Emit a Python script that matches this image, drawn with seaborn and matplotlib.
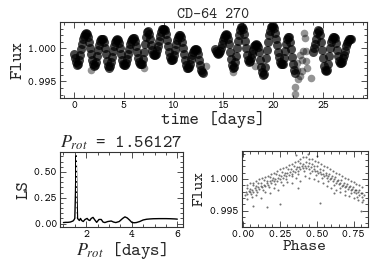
import matplotlib
matplotlib.use('Agg')
import matplotlib.pyplot as plt
import seaborn as sns
import pandas as pd
from matplotlib.ticker import MultipleLocator, FormatStrFormatter

# ---------------- light curve ----------------
lc_time = [0.0, 0.1, 0.2, 0.3, 0.4, 0.5, 0.6, 0.7, 0.8, 0.9, 1.0, 1.1, 1.2, 1.3, 1.4, 1.5, 1.6, 1.7, 1.8, 1.9,
           2.0, 2.1, 2.2, 2.3, 2.4, 2.5, 2.6, 2.7, 2.8, 2.9, 3.0, 3.1, 3.2, 3.3, 3.4, 3.5, 3.6, 3.7, 3.8, 3.9,
           4.0, 4.1, 4.2, 4.3, 4.4, 4.5, 4.6, 4.7, 4.8, 4.9, 5.0, 5.1, 5.2, 5.3, 5.4, 5.5, 5.6, 5.7, 5.8, 5.9,
           6.0, 6.1, 6.2, 6.3, 6.4, 6.5, 6.6, 6.7, 6.8, 6.9, 7.0, 7.1, 7.2, 7.3, 7.4, 7.5, 7.6, 7.7, 7.8, 7.9,
           8.0, 8.1, 8.2, 8.3, 8.4, 8.5, 8.6, 8.7, 8.8, 8.9, 9.0, 9.1, 9.2, 9.3, 9.4, 9.5, 9.6, 9.7, 9.8, 9.9,
           10.0, 10.1, 10.2, 10.3, 10.4, 10.5, 10.6, 10.7, 10.8, 10.9, 11.0, 11.1, 11.2, 11.3, 11.4, 11.5,
           11.6, 11.7, 11.8, 11.9, 12.0, 12.1, 12.2, 12.3, 12.4, 12.5, 12.6, 12.7, 12.8, 12.9,
           14.2, 14.3, 14.4, 14.5, 14.6, 14.7, 14.8, 14.9, 15.0, 15.1, 15.2, 15.3, 15.4, 15.5, 15.6, 15.7,
           15.8, 15.9, 16.0, 16.1, 16.2, 16.3, 16.4, 16.5, 16.6, 16.7, 16.8, 16.9, 17.0, 17.1, 17.2, 17.3,
           17.4, 17.5, 17.6, 17.7, 17.8, 17.9, 18.0, 18.1, 18.2, 18.3, 18.4, 18.5, 18.6, 18.7, 18.8, 18.9,
           19.0, 19.1, 19.2, 19.3, 19.4, 19.5, 19.6, 19.7, 19.8, 19.9, 20.0, 20.1, 20.2, 20.3, 20.4, 20.5,
           20.6, 20.7, 20.8, 20.9, 21.0, 21.1, 21.2, 21.3, 21.4, 21.5, 21.6, 21.7, 21.8, 21.9, 22.0, 22.1, 22.2,
           24.0, 24.1, 24.2, 24.3, 24.4, 24.5, 24.6, 24.7, 24.8, 24.9, 25.0, 25.1, 25.2, 25.3, 25.4, 25.5,
           25.6, 25.7, 25.8, 25.9, 26.0, 26.1, 26.2, 26.3, 26.4, 26.5, 26.6, 26.7, 26.8, 26.9, 27.0, 27.1,
           27.2, 27.3, 27.4, 27.5, 27.6, 27.7, 27.8]
lc_flux = [0.9992, 0.9986, 0.9979, 0.9975, 0.9976, 0.9982, 0.9990, 0.9999, 1.0007, 1.0014, 1.0019, 1.0022, 1.0023, 1.0022, 1.0017, 1.0009, 1.0000, 0.9991, 0.9983, 0.9977,
           0.9974, 0.9975, 0.9980, 0.9988, 0.9997, 1.0005, 1.0011, 1.0014, 1.0015, 1.0014, 1.0009, 1.0001, 0.9991, 0.9981, 0.9974, 0.9971, 0.9973, 0.9979, 0.9987, 0.9996,
           1.0004, 1.0010, 1.0013, 1.0014, 1.0013, 1.0008, 1.0000, 0.9991, 0.9983, 0.9977, 0.9975, 0.9975, 0.9978, 0.9984, 0.9991, 0.9999, 1.0006, 1.0011, 1.0014, 1.0016,
           1.0016, 1.0012, 1.0004, 0.9995, 0.9986, 0.9980, 0.9977, 0.9976, 0.9977, 0.9984, 0.9995, 1.0007, 1.0018, 1.0025, 1.0026, 1.0022, 1.0014, 1.0005, 0.9997, 0.9992,
           0.9990, 0.9990, 0.9992, 0.9997, 1.0004, 1.0012, 1.0019, 1.0025, 1.0029, 1.0030, 1.0030, 1.0028, 1.0022, 1.0013, 1.0003, 0.9994, 0.9987, 0.9983, 0.9982, 0.9984,
           0.9990, 0.9998, 1.0006, 1.0013, 1.0018, 1.0020, 1.0020, 1.0017, 1.0010, 1.0001, 0.9991, 0.9982, 0.9975, 0.9971, 0.9970, 0.9972,
           0.9977, 0.9984, 0.9990, 0.9995, 0.9998, 0.99995, 0.99995, 0.9997, 0.9991, 0.9983, 0.9975, 0.9968, 0.9964, 0.9963,
           0.9999, 0.9996, 0.9993, 0.9992, 0.9993, 0.9996, 1.0001, 1.0007, 1.0013, 1.0018, 1.0021, 1.0022, 1.0021, 1.0015, 1.0006, 0.9995,
           0.9984, 0.9975, 0.9970, 0.9972, 0.9979, 0.9989, 1.0000, 1.0011, 1.0021, 1.0028, 1.0032, 1.0033, 1.0030, 1.0022, 1.0011, 1.0000,
           0.9990, 0.9983, 0.9980, 0.9981, 0.9986, 0.9992, 0.9998, 1.0003, 1.0005, 1.0006, 1.0005, 1.0002, 0.9994, 0.9983, 0.9972, 0.9964,
           0.9960, 0.9962, 0.9972, 0.9985, 0.9998, 1.0010, 1.0020, 1.0027, 1.0032, 1.0034, 1.0034, 1.0031, 1.0024, 1.0015, 1.0005, 0.9995,
           0.9987, 0.9980, 0.9977, 0.9976, 0.9977, 0.9985, 0.9996, 1.0007, 1.0015, 1.0018, 1.0017, 1.0010, 0.9999, 0.9987, 0.9976, 0.9968, 0.9963,
           0.9994, 1.0000, 1.0006, 1.0015, 1.0024, 1.0028, 1.0027, 1.0020, 1.0009, 0.9997, 0.9985, 0.9974, 0.9968, 0.9966, 0.9968, 0.9976,
           0.9988, 1.0000, 1.0009, 1.0015, 1.0018, 1.0018, 1.0016, 1.0008, 0.9998, 0.9988, 0.9981, 0.9978, 0.9978, 0.9980, 0.9985, 0.9990,
           0.9996, 1.0003, 1.0008, 1.0012, 1.0014, 1.0015, 1.0015]
# isolated / scattered points
out_time = [1.75, 7.05, 13.2, 15.95, 18.2, 22.15, 22.2, 22.45, 22.4, 22.35, 22.67, 22.83, 22.67, 22.83,
            23.0, 23.1, 23.2, 23.33, 23.33, 23.4, 23.8]
out_flux = [0.9968, 0.9971, 0.9974, 0.9965, 0.9974, 0.9941, 0.9931, 0.9953, 0.9978, 0.9968, 0.9990, 0.9983, 0.9958, 0.9966,
            0.9996, 1.0023, 1.0016, 0.99955, 0.9981, 0.9971, 0.99555]

# ---------------- periodogram ----------------
ls_period = [1.00, 1.10, 1.20, 1.30, 1.36, 1.42, 1.46, 1.50, 1.53, 1.56127, 1.59, 1.62, 1.66, 1.70, 1.75, 1.80,
             1.87, 1.95, 2.04, 2.10, 2.16, 2.22, 2.30, 2.38, 2.46, 2.56, 2.66, 2.74, 2.82, 2.95, 3.10, 3.20,
             3.30, 3.45, 3.60, 3.70, 3.80, 3.90, 4.00, 4.10, 4.20, 4.35, 4.50, 4.65, 4.80, 4.95, 5.20, 5.50,
             5.70, 5.90, 6.00]
ls_power = [0.010, 0.012, 0.012, 0.015, 0.020, 0.025, 0.035, 0.05, 0.30, 0.66, 0.30, 0.05, 0.04, 0.03, 0.05, 0.03,
            0.02, 0.04, 0.05, 0.035, 0.03, 0.05, 0.06, 0.035, 0.012, 0.04, 0.04, 0.015, 0.01, 0.02, 0.025, 0.015,
            0.01, 0.02, 0.05, 0.065, 0.055, 0.035, 0.012, 0.008, 0.010, 0.020, 0.035, 0.042, 0.045, 0.047, 0.048, 0.048,
            0.047, 0.045, 0.043]
p_rot = 1.56127

# ---------------- phase-folded ----------------
ph_phase = [0.02, 0.04, 0.06, 0.08, 0.10, 0.12, 0.14, 0.16, 0.18, 0.20, 0.22, 0.24, 0.26, 0.28, 0.30, 0.32, 0.34, 0.36, 0.38, 0.40,
            0.42, 0.44, 0.46, 0.48, 0.50, 0.52, 0.54, 0.56, 0.58, 0.60, 0.62, 0.64, 0.66, 0.68, 0.70, 0.72, 0.74, 0.76, 0.78, 0.80, 0.82,
            0.03, 0.05, 0.07, 0.09, 0.11, 0.13, 0.15, 0.17, 0.19, 0.21, 0.23, 0.25, 0.27, 0.29, 0.31, 0.33, 0.35, 0.37, 0.39, 0.41,
            0.43, 0.45, 0.47, 0.49, 0.51, 0.53, 0.55, 0.57, 0.59, 0.61, 0.63, 0.65, 0.67, 0.69, 0.71, 0.73, 0.75, 0.77, 0.79, 0.81,
            0.03, 0.05, 0.07, 0.09, 0.11, 0.13, 0.15, 0.17, 0.19, 0.21, 0.23, 0.25, 0.27, 0.29, 0.31, 0.33, 0.35, 0.37, 0.39, 0.41,
            0.43, 0.45, 0.47, 0.49, 0.51, 0.53, 0.55, 0.57, 0.59, 0.61, 0.63, 0.65, 0.67, 0.69, 0.71, 0.73, 0.75, 0.77, 0.79, 0.81,
            0.03, 0.06, 0.09, 0.12, 0.15, 0.18, 0.21, 0.24, 0.27, 0.30, 0.33, 0.36, 0.39, 0.42, 0.45, 0.48, 0.51, 0.54, 0.57, 0.60,
            0.63, 0.66, 0.69, 0.72, 0.75, 0.78, 0.81, 0.07, 0.16, 0.25, 0.37, 0.52, 0.62, 0.80, 0.36, 0.44, 0.50,
            0.025, 0.045, 0.065, 0.085, 0.105, 0.125, 0.145, 0.165, 0.185, 0.205, 0.225, 0.245, 0.265, 0.285, 0.305, 0.325,
            0.345, 0.365, 0.385, 0.405, 0.425, 0.445, 0.465, 0.485, 0.505, 0.525, 0.545, 0.565, 0.585, 0.605, 0.625, 0.645,
            0.665, 0.685, 0.705, 0.725, 0.745, 0.765, 0.785, 0.805,
            0.015, 0.055, 0.095, 0.135, 0.175, 0.215, 0.255, 0.295, 0.335, 0.375, 0.415, 0.455, 0.495, 0.535, 0.575, 0.615,
            0.655, 0.695, 0.735, 0.775, 0.815]
ph_flux = [0.9979, 0.9981, 0.9983, 0.9985, 0.9987, 0.9989, 0.9991, 0.9993, 0.9996, 0.9998, 1.0000, 1.0002, 1.0004, 1.0006, 1.0009, 1.0011, 1.0013, 1.0015, 1.0018, 1.0020,
           1.0021, 1.0020, 1.0018, 1.0016, 1.0013, 1.0011, 1.0008, 1.0006, 1.0004, 1.0001, 0.9999, 0.9996, 0.9994, 0.9991, 0.9989, 0.9987, 0.9984, 0.9982, 0.9979, 0.9977, 0.9975,
           0.9976, 0.9979, 0.9980, 0.9983, 0.9984, 0.9987, 0.9988, 0.9991, 0.9993, 0.9996, 0.9997, 1.0000, 1.0001, 1.0004, 1.0006, 1.0008, 1.0011, 1.0013, 1.0015, 1.0017,
           1.0017, 1.0016, 1.0013, 1.0012, 1.0009, 1.0007, 1.0004, 1.0002, 0.9999, 0.9997, 0.9994, 0.9992, 0.9989, 0.9987, 0.9984, 0.9982, 0.9979, 0.9977, 0.9974, 0.9971,
           0.9990, 0.9993, 0.9994, 0.9997, 0.9999, 1.0001, 1.0003, 1.0005, 1.0008, 1.0010, 1.0012, 1.0015, 1.0017, 1.0019, 1.0022, 1.0024, 1.0027, 1.0029, 1.0032, 1.0034,
           1.0034, 1.0032, 1.0031, 1.0028, 1.0026, 1.0023, 1.0020, 1.0018, 1.0015, 1.0013, 1.0010, 1.0007, 1.0005, 1.0002, 1.0000, 0.9997, 0.9995, 0.9992, 0.9990, 0.9987,
           0.9968, 0.9972, 0.9975, 0.9970, 0.9980, 0.9978, 0.9985, 0.9983, 0.9991, 0.9995, 0.9993, 1.0001, 0.9997, 1.0005, 1.0002, 1.0000, 0.9996, 0.9993, 0.9988, 0.9986,
           0.9982, 0.9979, 0.9975, 0.9973, 0.9970, 0.9966, 0.9963, 0.9957, 0.9955, 0.9960, 0.9985, 0.9962, 0.9978, 0.9950, 1.0038, 1.0039, 1.0036,
           0.9986, 0.9984, 0.9990, 0.9989, 0.9994, 0.9993, 0.9998, 0.9997, 1.0003, 1.0002, 1.0007, 1.0006, 1.0011, 1.0010, 1.0016, 1.0015,
           1.0020, 1.0019, 1.0025, 1.0024, 1.0027, 1.0025, 1.0024, 1.0020, 1.0020, 1.0015, 1.0014, 1.0009, 1.0008, 1.0004, 1.0003, 0.9998,
           0.9998, 0.9993, 0.9992, 0.9988, 0.9987, 0.9982, 0.9982, 0.9977,
           0.9974, 0.9976, 0.9980, 0.9983, 0.9987, 0.9992, 0.9995, 0.9999, 1.0004, 1.0008, 1.0012, 1.0010, 1.0006, 1.0001, 0.9996, 0.9991,
           0.9986, 0.9981, 0.9977, 0.9972, 0.9967]

# ---------------- style ----------------
sns.set_style('ticks')
plt.rcParams['font.family'] = ['cmtt10', 'DejaVu Sans']
plt.rcParams['mathtext.fontset'] = 'stix'
plt.rcParams['axes.unicode_minus'] = False
plt.rcParams['axes.edgecolor'] = '#333333'
plt.rcParams['axes.linewidth'] = 0.8

W, H = 374, 267
fig = plt.figure(figsize=(W / 100, H / 100), dpi=100)

def box(l, t, r, b):
    return [l / W, 1 - b / H, (r - l) / W, (b - t) / H]

ax1 = fig.add_axes(box(60, 22, 367, 98))
ax2 = fig.add_axes(box(60, 152, 183, 227))
ax3 = fig.add_axes(box(241.5, 151, 367.5, 227))

lc = pd.DataFrame({'time': lc_time, 'flux': lc_flux})
outl = pd.DataFrame({'time': out_time, 'flux': out_flux})
sns.scatterplot(data=lc, x='time', y='flux', ax=ax1, color='black', s=42, alpha=0.72, linewidth=0, legend=False)
sns.scatterplot(data=outl, x='time', y='flux', ax=ax1, color='black', s=30, alpha=0.42, linewidth=0, legend=False)
ax1.set_xlim(-1.4, 29.4)
ax1.set_ylim(0.9925, 1.0040)
ax1.xaxis.set_major_locator(MultipleLocator(5))
ax1.xaxis.set_minor_locator(MultipleLocator(1))
ax1.yaxis.set_major_locator(MultipleLocator(0.005))
ax1.yaxis.set_minor_locator(MultipleLocator(0.001))
ax1.yaxis.set_major_formatter(FormatStrFormatter('%.3f'))
ax1.set_title('CD-64 270', fontsize=11, pad=2)
ax1.set_xlabel('time [days]', fontsize=13, labelpad=0)
ax1.set_ylabel('Flux', fontsize=13, labelpad=2)

ls = pd.DataFrame({'period': ls_period, 'power': ls_power})
sns.lineplot(data=ls, x='period', y='power', ax=ax2, color='black', lw=1.0, estimator=None)
ax2.axvline(p_rot, color='white', ls='--', lw=0.7)
ax2.set_xlim(0.85, 6.25)
ax2.set_ylim(-0.033, 0.693)
ax2.xaxis.set_major_locator(MultipleLocator(2))
ax2.xaxis.set_minor_locator(MultipleLocator(0.5))
ax2.yaxis.set_major_locator(MultipleLocator(0.25))
ax2.yaxis.set_minor_locator(MultipleLocator(0.05))
ax2.yaxis.set_major_formatter(FormatStrFormatter('%.2f'))
ax2.set_title(r'$P_{rot}$ = %.5f' % p_rot, fontsize=13, pad=2)
ax2.set_xlabel(r'$P_{rot}$ [days]', fontsize=13, labelpad=0)
ax2.set_ylabel('LS', fontsize=13, labelpad=2)

ph = pd.DataFrame({'phase': ph_phase, 'flux': ph_flux})
sns.scatterplot(data=ph, x='phase', y='flux', ax=ax3, color='black', s=2.2, alpha=0.55, linewidth=0, legend=False)
ax3.set_xlim(-0.01, 0.845)
ax3.set_ylim(0.9924, 1.0044)
ax3.xaxis.set_major_locator(MultipleLocator(0.25))
ax3.xaxis.set_minor_locator(MultipleLocator(0.05))
ax3.xaxis.set_major_formatter(FormatStrFormatter('%.2f'))
ax3.yaxis.set_major_locator(MultipleLocator(0.005))
ax3.yaxis.set_minor_locator(MultipleLocator(0.001))
ax3.yaxis.set_major_formatter(FormatStrFormatter('%.3f'))
ax3.set_xlabel('Phase', fontsize=12, labelpad=0)
ax3.set_ylabel('Flux', fontsize=12, labelpad=2)

for ax in (ax1, ax2, ax3):
    ax.tick_params(which='both', direction='in', top=True, right=True, width=0.6, colors='#333333',
                   labelcolor='black', labelsize=8, pad=2)
    ax.tick_params(which='major', length=4)
    ax.tick_params(which='minor', length=2)

fig.savefig('out.png', dpi=100)
